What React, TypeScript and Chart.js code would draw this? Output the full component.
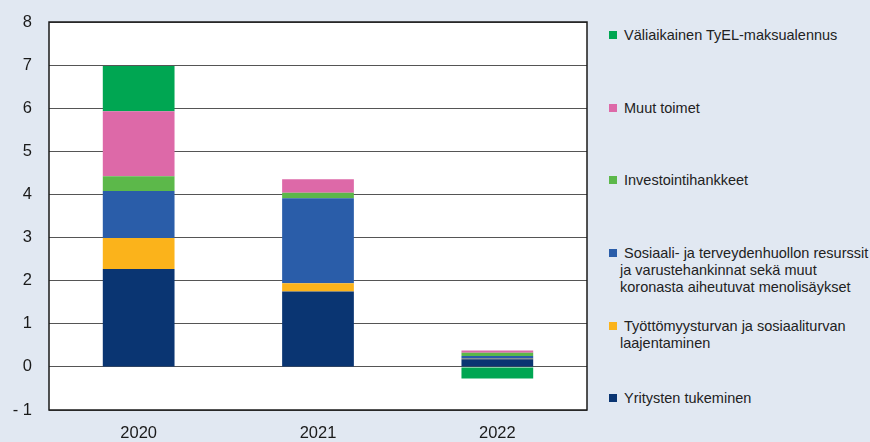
import React, { useEffect, useRef } from "react";
import { Chart, registerables } from "chart.js";

Chart.register(...registerables);

const categories = ["2020", "2021", "2022"];
const seriesNames = [
  "Yritysten tukeminen",
  "Työttömyysturvan ja sosiaaliturvan\nlaajentaminen",
  "Sosiaali- ja terveydenhuollon resurssit\nja varustehankinnat sekä muut\nkoronasta aiheutuvat menolisäykset",
  "Investointihankkeet",
  "Muut toimet",
  "Väliaikainen TyEL-maksualennus",
];
const yritysten = [2.27, 1.75, 0.18];
const tyottomyys = [0.72, 0.19, 0.01];
const sosiaali = [1.09, 1.97, 0.06];
const investointi = [0.34, 0.13, 0.08];
const muut = [1.51, 0.31, 0.05];
const tyel = [1.05, 0, -0.27];
const seriesColors = ["#0a3572", "#fbb31b", "#2a5da9", "#5cb84a", "#dd69a8", "#00a652"];
const yMin = -1;
const yMax = 8;

const FONT = "Arial, 'Liberation Sans', Helvetica, sans-serif";
const BG = "#e1e8f2";

// legend layout: vertical centers of first line, top to bottom
const legendOrder = [5, 4, 3, 2, 1, 0];
const legendCenters = [35, 108, 180, 253, 326, 398];

const framePlugin = {
  id: "frame",
  beforeDraw(chart: any) {
    const { ctx, chartArea } = chart;
    ctx.save();
    ctx.fillStyle = "#ffffff";
    ctx.fillRect(chartArea.left, chartArea.top, chartArea.right - chartArea.left, chartArea.bottom - chartArea.top);
    ctx.restore();
  },
  afterDraw(chart: any) {
    const { ctx, chartArea } = chart;
    ctx.save();
    ctx.strokeStyle = "#1a1a1a";
    ctx.lineWidth = 1.5;
    ctx.strokeRect(chartArea.left, chartArea.top, chartArea.right - chartArea.left, chartArea.bottom - chartArea.top);
    ctx.restore();
  },
};

export default function App() {
  const ref = useRef<HTMLCanvasElement | null>(null);

  useEffect(() => {
    document.body.style.margin = "0";
    const values = [yritysten, tyottomyys, sosiaali, investointi, muut, tyel];
    const chart = new Chart(ref.current as HTMLCanvasElement, {
      type: "bar",
      data: {
        labels: categories,
        datasets: values.map((v, i) => ({
          label: seriesNames[i],
          data: v,
          backgroundColor: seriesColors[i],
          borderWidth: 0,
          barPercentage: 0.4,
          categoryPercentage: 1,
        })),
      },
      options: {
        responsive: false,
        maintainAspectRatio: false,
        animation: false,
        devicePixelRatio: 1,
        layout: { padding: { top: 22, right: 12, left: 0, bottom: 0 } },
        plugins: { legend: { display: false }, tooltip: { enabled: false } },
        scales: {
          x: {
            stacked: true,
            grid: { display: false, drawTicks: false },
            border: { display: false },
            ticks: { color: "#1a1a1a", font: { family: FONT, size: 16.5 }, padding: 14 },
            afterFit: (s: any) => {
              s.height = 32;
            },
          },
          y: {
            stacked: true,
            min: yMin,
            max: yMax,
            grid: { color: "#555555", lineWidth: 1, drawTicks: false },
            border: { display: false },
            ticks: {
              stepSize: 1,
              color: "#1a1a1a",
              font: { family: FONT, size: 16.5 },
              padding: 17,
              callback: (v: any) => (Number(v) < 0 ? "- " + Math.abs(Number(v)) : String(v)),
            },
            afterFit: (s: any) => {
              s.width = 49;
              s.paddingTop = 0;
              s.paddingBottom = 0;
            },
          },
        },
      },
      plugins: [framePlugin],
    });
    return () => chart.destroy();
  }, []);

  return (
    <div style={{ position: "absolute", left: 0, top: 0, width: 870, height: 442, background: BG, overflow: "hidden", fontFamily: FONT }}>
      <canvas ref={ref} width={599} height={442} style={{ position: "absolute", left: 0, top: 0, width: 599, height: 442 }} />
      {legendOrder.map((si, k) => (
        <div key={si}>
          <div
            style={{
              position: "absolute",
              left: 609,
              top: legendCenters[k] - 4,
              width: 8,
              height: 8,
              background: seriesColors[si],
            }}
          />
          <div
            style={{
              position: "absolute",
              left: 620,
              top: legendCenters[k] - 8.5,
              fontSize: 14.5,
              lineHeight: "17px",
              color: "#222222",
              whiteSpace: "pre-line",
              textIndent: 4,
            }}
          >
            {seriesNames[si]}
          </div>
        </div>
      ))}
    </div>
  );
}
